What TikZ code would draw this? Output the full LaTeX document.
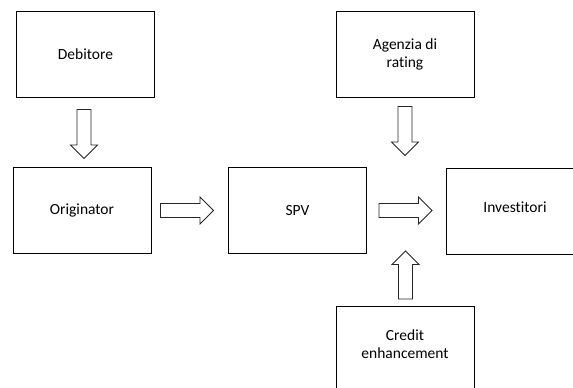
\documentclass[tikz,border=0pt]{standalone}
\usepackage{fontspec}
\setmainfont[Ligatures=NoCommon]{Carlito}
\usetikzlibrary{calc}
\tikzset{
  boxfont/.style={font=\fontsize{15.5}{18}\selectfont},
  box/.style={draw=black, line width=1pt, minimum width=138pt, minimum height=86pt,
    inner sep=0pt, align=center, boxfont},
  blk/.style={draw=black!85, line width=0.8pt, fill=white, line join=miter},
  pics/blockarrow/.style={code={
    \draw[blk] (0,7) -- ({#1-13.5},7) -- ({#1-13.5},13.5) -- (#1,0)
      -- ({#1-13.5},-13.5) -- ({#1-13.5},-7) -- (0,-7) -- cycle;}}
}
\begin{document}
\begin{tikzpicture}[x=1pt, y=-1pt]
  \clip (0,0) rectangle (573,388);
  \fill[white] (0,0) rectangle (573,388);
  % boxes
  \node[box] (deb)  at (85.5,54)   {Debitore};
  \node[box] (agz)  at (405,54)    {Agenzia di\\rating};
  \node[box] (orig) at (82,210.5)  {Originator};
  \node[box] (spv)  at (297.5,210.5) {SPV};
  \node[box, label={[yshift=4pt, boxfont]center:Investitori}] (inv) at (515,211.5) {};
  \node[box, label={[yshift=5pt, align=center, boxfont]center:Credit\\enhancement}] (ce) at (405,349.5) {};
  % block arrows between the boxes
  \path ($(deb.south)+(-1.5,12)$) pic[rotate=-90] {blockarrow=49};
  \path ($(agz.north)+(0,96)$) pic[rotate=-90] {blockarrow=49};
  \path ($(orig.east)+(9,0)$) pic {blockarrow=53};
  \path ($(spv.east)+(12,0)$) pic {blockarrow=53};
  \path ($(ce.north)+(0.5,-7)$) pic[rotate=90] {blockarrow=48};
\end{tikzpicture}
\end{document}
